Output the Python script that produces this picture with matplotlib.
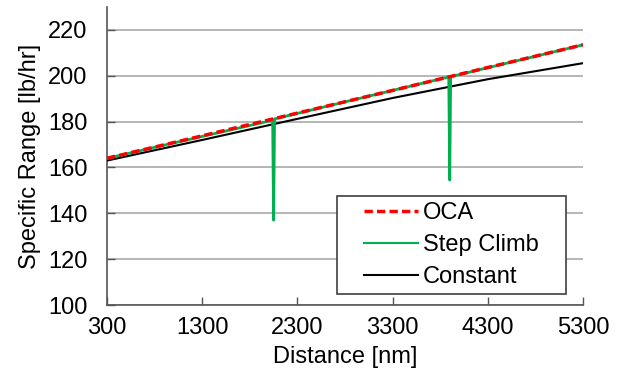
import matplotlib
matplotlib.use("Agg")
import matplotlib.pyplot as plt
from matplotlib.patches import Rectangle

plt.rcParams['font.family'] = ['Liberation Sans', 'DejaVu Sans']

distance = [300, 1300, 2300, 3300, 4300, 5300]
oca = [164.0, 173.8, 183.7, 193.6, 203.6, 213.5]
constant = [163.0, 172.0, 181.2, 190.3, 198.5, 205.5]
step_x = [300, 2040, 2050, 2060, 3890, 3900, 3910, 5300]
step_y = [164.0, 180.6, 137.0, 181.2, 199.5, 154.5, 199.6, 213.5]

x_ticks = [300, 1300, 2300, 3300, 4300, 5300]
y_ticks = [100, 120, 140, 160, 180, 200, 220]

FS = 17
fig = plt.figure(figsize=(6.22, 3.80), dpi=100)
ax = fig.add_axes([107/622, 1-305/380, 476/622, 298/380])

ax.plot(distance, constant, color='black', lw=1.5, label='Constant', zorder=3)
ax.plot(step_x, step_y, color='#00b050', lw=2.0, label='Step Climb', zorder=4)
ax.plot(distance, oca, color='#ff0000', lw=2.5, ls=(0, (2.4, 1.2)), label='OCA', zorder=5)

ax.set_xlim(300, 5300)
ax.set_ylim(100, 230)
ax.set_xticks(x_ticks)
ax.set_yticks(y_ticks)
ax.tick_params(direction='in', labelsize=FS, length=6, color='#555555', width=1)
ax.tick_params(axis='x', pad=9)
ax.tick_params(axis='y', pad=14)
ax.yaxis.grid(True, color='#b0b0b0', lw=1.3)
ax.set_axisbelow(True)
for s in ['top', 'right']:
    ax.spines[s].set_visible(False)
for s in ['left', 'bottom']:
    ax.spines[s].set_color('#555555')
    ax.spines[s].set_linewidth(1.2)

ax.set_xlabel('Distance [nm]', fontsize=FS, labelpad=5)
ax.set_ylabel('Specific Range [lb/hr]', fontsize=FS, labelpad=5)

# legend frame
x0, x1 = 0.483, 0.964
y0, y1 = 0.037, 0.366
ax.add_patch(Rectangle((x0, y0), x1 - x0, y1 - y0, transform=ax.transAxes,
                       facecolor='white', edgecolor='#404040', lw=1.2, zorder=6))

handles, labels = ax.get_legend_handles_labels()
order = [2, 1, 0]
leg = ax.legend([handles[i] for i in order], [labels[i] for i in order],
                loc='center', bbox_to_anchor=((x0 + x1) / 2, (y0 + y1) / 2), fontsize=FS,
                frameon=False, handlelength=2.3, handletextpad=0.2, borderpad=0.2,
                labelspacing=0.42)
leg.set_zorder(7)
for h in leg.get_lines():
    if h.get_color() != '#ff0000':
        h.set_linewidth(1.5)

fig.savefig('out.png', dpi=100)
